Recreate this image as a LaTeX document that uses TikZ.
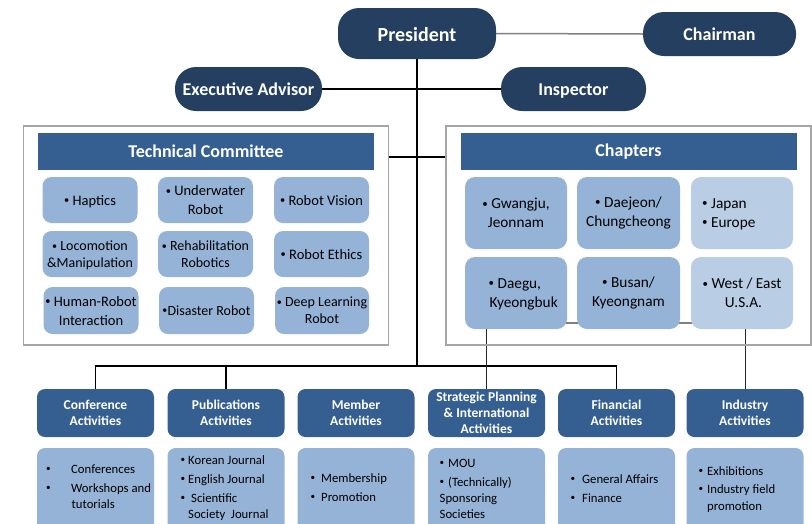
\documentclass[tikz,border=0pt]{standalone}
\usepackage{fontspec}
\usepackage{graphicx}
\setmainfont{Carlito}
\usetikzlibrary{backgrounds}
\definecolor{navy}{RGB}{36,63,96}
\definecolor{hdr}{RGB}{54,95,145}
\definecolor{itemc}{RGB}{149,179,215}
\definecolor{lightc}{RGB}{185,205,229}
\definecolor{outerc}{RGB}{165,165,165}
\newcommand{\bu}{\raisebox{0.1em}{\scalebox{0.72}{•}}}
\newcommand{\bl}[2]{\makebox[#1][l]{\bu}#2}
\begin{document}
\begin{tikzpicture}[x=1pt,y=-1pt,
  pill/.style={fill=navy, rounded corners=21pt, text=white, inner sep=0pt,
    text height=13.2pt, text depth=0pt,
    font=\bfseries\fontsize{18}{22}\selectfont},
  outerbox/.style={draw=outerc, line width=1.5pt, inner sep=0pt},
  titlebar/.style={fill=hdr, text=white, inner sep=0pt,
    font=\bfseries\fontsize{18}{22}\selectfont},
  tcitem/.style={fill=itemc, rounded corners=9pt, inner sep=0pt, align=center,
    text depth=0pt,
    minimum width=95pt, minimum height=46pt, font=\fontsize{14.5}{18.5}\selectfont},
  chitem/.style={fill=itemc, rounded corners=10pt, inner sep=0pt, align=center,
    minimum width=102pt, minimum height=72pt, font=\fontsize{15.3}{19}\selectfont},
  chtext/.style={inner sep=0pt, align=left, font=\fontsize{15.3}{19}\selectfont},
  acthdr/.style={fill=hdr, rounded corners=8pt, text=white, inner sep=0pt, align=center,
    minimum width=117pt, minimum height=48pt, font=\bfseries\fontsize{13.5}{16}\selectfont},
  actdet/.style={fill=itemc, rounded corners=8pt, inner sep=0pt,
    minimum width=117pt, minimum height=87pt},
  dettext/.style={inner sep=0pt, align=left, anchor=north west,
    font=\fontsize{12.7}{16}\selectfont},
  conn/.style={black, line width=1.3pt},
  thickconn/.style={black, line width=2pt},
  thinconn/.style={black!85, line width=1pt},
  grayconn/.style={black!50, line width=1.5pt}
]
\useasboundingbox (0,0) rectangle (812,523);
\clip (0,0) rectangle (812,523);

% top level
\node[pill, minimum width=158pt, minimum height=51pt, text height=16pt, font=\bfseries\fontsize{20}{24}\selectfont] (pres) at (417,33.5) {President};
\node[pill, minimum width=153pt, minimum height=44pt] (chair) at (719.5,34) {Chairman};
\node[pill, minimum width=147pt, minimum height=44pt] (exec) at (248.5,89) {Executive Advisor};
\node[pill, minimum width=145pt, minimum height=44pt] (insp) at (573.5,89) {Inspector};

% outer boxes
\node[outerbox, minimum width=365pt, minimum height=219pt] (tcbox) at (206,235.5) {};
\node[outerbox, minimum width=365pt, minimum height=219pt] (chbox) at (628.5,235.5) {};
\node[titlebar, minimum width=336pt, minimum height=37pt] (tctitle) at (206,151.5) {Technical Committee};
\node[titlebar, minimum width=336pt, minimum height=37pt] (chtitle) at (628.5,151.5) {Chapters};

% technical committee items
\node[tcitem] (haptics) at (90,200) {\bu\ Haptics};
\node[tcitem] (under) at (205.5,200) {\bu\ Underwater\\Robot};
\node[tcitem] (vision) at (321.5,200) {\bu\ Robot Vision};
\node[tcitem, font=\fontsize{14}{16.5}\selectfont] (loco) at (90,254) {\bu\ Locomotion\\\&Manipulation};
\node[tcitem, font=\fontsize{14}{16.5}\selectfont] (rehab) at (205.5,254) {\bu\ Rehabilitation\\Robotics};
\node[tcitem] (ethics) at (321.5,254) {\bu\ Robot Ethics};
\node[tcitem, minimum height=47pt, font=\fontsize{14.5}{19}\selectfont] (hri) at (91,310.5) {\bu\ Human-Robot\\Interaction};
\node[tcitem, minimum height=47pt, font=\fontsize{14}{17}\selectfont] (disaster) at (206.5,310.5) {\bu Disaster Robot};
\node[tcitem, minimum height=47pt, minimum width=94pt, font=\fontsize{14}{17}\selectfont] (deep) at (322,310.5) {\bu\ Deep Learning\\Robot};

% chapters items
\node[chitem] (gwangju) at (516,213) {\bu\ Gwangju,\\Jeonnam};
\node[chitem, minimum width=103pt] (daejeon) at (628.5,213) {\bu\ Daejeon/\\Chungcheong};
\node[chitem, fill=lightc] (japan) at (742,213) {};
\node[chtext, anchor=west] (japantxt) at (702,214) {\bu\ Japan\\\bu\ Europe};
\node[chitem] (daegu) at (516,293) {};
\node[chtext, anchor=west] (daegutxt) at (488.5,294) {\bu\ Daegu,\\\hspace*{1pt}Kyeongbuk};
\node[chitem, minimum width=103pt] (busan) at (628.5,293) {\bu\ Busan/\\Kyeongnam};
\node[chitem, fill=lightc] (west) at (742,293) {\bu\ West / East\\\hspace*{3pt}U.S.A.};

% activity headers
\node[acthdr] (conf) at (95.5,413) {Conference\\Activities};
\node[acthdr] (pub) at (226,413) {Publications\\Activities};
\node[acthdr] (mem) at (356,413) {Member\\Activities};
\node[acthdr] (strat) at (486.5,413) {Strategic Planning\\\& International\\Activities};
\node[acthdr] (fin) at (616.5,413) {Financial\\Activities};
\node[acthdr] (ind) at (745,413) {Industry\\Activities};

% activity details
\node[actdet] (confd) at (95.5,491.5) {};
\node[actdet] (pubd) at (226,491.5) {};
\node[actdet] (memd) at (356,491.5) {};
\node[actdet] (stratd) at (486.5,491.5) {};
\node[actdet] (find) at (616.5,491.5) {};
\node[actdet] (indd) at (745,491.5) {};

\node[dettext] (confdt) at (46,461.8) {\strut\bl{25pt}{Conferences}\\[3pt]\bl{25pt}{Workshops and}\\\hspace*{25.5pt}tutorials};
\node[dettext] (pubdt) at (180.5,452.8) {\strut\bl{7.5pt}{Korean Journal}\\[3pt]\bl{7.5pt}{English Journal}\\[3pt]\bl{7.5pt}{\hspace*{3pt}Scientific}\\\hspace*{7.5pt}Society\ \ Journal};
\node[dettext] (memdt) at (310.5,470.8) {\strut\bl{10.5pt}{Membership}\\[3pt]\bl{10.5pt}{Promotion}};
\node[dettext] (stratdt) at (439.5,455.8) {\strut\bl{8.5pt}{MOU}\\[3pt]\bl{8.5pt}{(Technically)}\\Sponsoring\\Societies};
\node[dettext] (findt) at (570.5,471.8) {\strut\bl{11.5pt}{General Affairs}\\[3pt]\bl{11.5pt}{Finance}};
\node[dettext] (inddt) at (698.5,463.8) {\strut\bl{8.5pt}{Exhibitions}\\[2pt]\bl{8.5pt}{Industry field}\\[1pt]\hspace*{8.5pt}promotion};

\coordinate (mid) at (417,157);
\coordinate (busy) at (417,366);
\coordinate (chline) at (600,323);

\begin{pgfonlayer}{background}
\draw[grayconn] (pres.east) -- (chair.west);
\draw[thickconn] (exec.east) -- (insp.west);
\draw[thickconn] (tcbox.east |- mid) -- (chbox.west |- mid);
\draw[thickconn] (pres.south) -- (busy);
\draw[conn] (conf.north) |- (fin.north |- busy) -- (fin.north);
\draw[conn] (pub.north) -- (pub.north |- busy);
\draw[thinconn] (strat.north |- daegu.south) -- (strat.north);
\draw[thinconn] (ind.north |- west.south) -- (ind.north);
\draw[grayconn] (daegu.center |- chline) -- (west.center |- chline);
\end{pgfonlayer}
\end{tikzpicture}
\end{document}
